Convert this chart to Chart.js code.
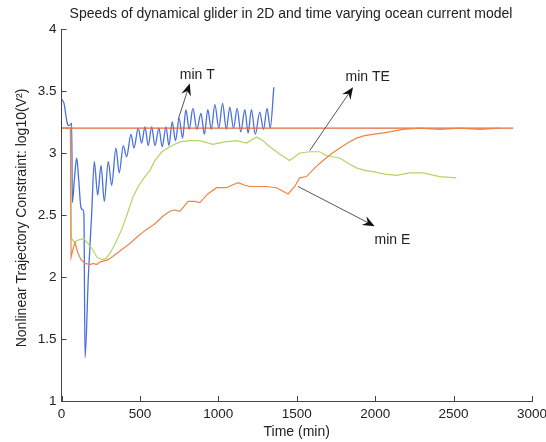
<!DOCTYPE html>
<html>
<head>
<meta charset="utf-8">
<script src="https://cdn.jsdelivr.net/npm/chart.js@4.4.1/dist/chart.umd.min.js"></script>
<style>
  html, body { margin: 0; padding: 0; background: #fff; }
  #wrap { width: 546px; height: 442px; }
</style>
</head>
<body>
<div id="wrap"><canvas id="speeds"></canvas></div>
<script>
// time (min) and log10(V^2) for each run
const minT_time = [3, 16, 35, 45, 58, 65, 69, 83, 97, 110, 124, 137, 143, 150, 171, 192, 209, 231, 252, 273, 298, 320, 347, 368, 394, 415, 443, 462, 489, 511, 532, 553, 575, 596, 621, 642, 666, 685, 706, 727, 750, 772, 793, 814, 838, 863, 889, 911, 933, 955, 978, 1003, 1027, 1051, 1073, 1097, 1120, 1143, 1169, 1190, 1211, 1236, 1264, 1288, 1311, 1331, 1354]
const minT_value = [3.43, 3.40, 3.25, 3.22, 3.23, 3.24, 2.60, 2.80, 2.96, 2.78, 2.56, 2.54, 2.50, 1.35, 2.00, 2.50, 2.93, 2.66, 2.90, 2.61, 2.93, 2.74, 3.04, 2.84, 3.06, 2.97, 3.15, 3.04, 3.20, 3.08, 3.21, 3.06, 3.21, 3.06, 3.20, 3.05, 3.21, 3.06, 3.25, 3.10, 3.28, 3.12, 3.35, 3.19, 3.36, 3.19, 3.32, 3.15, 3.35, 3.19, 3.39, 3.20, 3.40, 3.19, 3.37, 3.20, 3.36, 3.17, 3.35, 3.16, 3.35, 3.15, 3.33, 3.19, 3.36, 3.20, 3.53]

const minTE_time = [3, 57, 61, 80, 111, 143, 169, 194, 226, 256, 283, 309, 347, 383, 417, 457, 494, 532, 564, 596, 640, 691, 755, 818, 882, 965, 1041, 1116, 1180, 1243, 1283, 1328, 1392, 1455, 1519, 1583, 1646, 1689, 1774, 1825, 1880, 1933, 1986, 2061, 2135, 2220, 2304, 2411, 2517]
const minTE_value = [3.20, 3.20, 2.32, 2.28, 2.30, 2.31, 2.27, 2.23, 2.16, 2.14, 2.15, 2.19, 2.28, 2.38, 2.50, 2.65, 2.74, 2.81, 2.86, 2.94, 3.01, 3.05, 3.09, 3.10, 3.10, 3.07, 3.09, 3.10, 3.08, 3.13, 3.10, 3.05, 2.99, 2.94, 3.00, 3.01, 3.01, 2.98, 2.96, 2.92, 2.88, 2.86, 2.85, 2.83, 2.82, 2.84, 2.84, 2.81, 2.80]

const minE_time = [3, 57, 61, 73, 86, 103, 124, 150, 182, 203, 224, 245, 298, 341, 383, 436, 489, 538, 596, 646, 691, 723, 755, 808, 850, 882, 933, 989, 1052, 1086, 1126, 1169, 1201, 1252, 1307, 1371, 1445, 1487, 1519, 1562, 1615, 1668, 1717, 1774, 1825, 1880, 1933, 1986, 2041, 2092, 2177, 2283, 2411, 2538, 2666, 2793]
const minE_value = [3.20, 3.20, 2.16, 2.22, 2.28, 2.20, 2.14, 2.11, 2.10, 2.11, 2.10, 2.12, 2.14, 2.18, 2.22, 2.27, 2.33, 2.38, 2.43, 2.49, 2.53, 2.54, 2.53, 2.61, 2.61, 2.60, 2.67, 2.72, 2.72, 2.74, 2.76, 2.74, 2.73, 2.73, 2.73, 2.72, 2.67, 2.73, 2.80, 2.81, 2.88, 2.94, 2.99, 3.04, 3.08, 3.12, 3.14, 3.15, 3.16, 3.17, 3.19, 3.20, 3.19, 3.20, 3.19, 3.20]

const limit_time = [0, 2880]
const limit_value = [3.2, 3.2]

const x_ticks = [0, 500, 1000, 1500, 2000, 2500, 3000]
const y_ticks = [1, 1.5, 2, 2.5, 3, 3.5, 4]

// arrow callouts, in data units
const callouts = [
  { text: 'min T', from: [744, 3.27], to: [818, 3.56], at: [866, 3.63] },
  { text: 'min TE', from: [1583, 3.02], to: [1859, 3.53], at: [1952, 3.61] },
  { text: 'min E', from: [1508, 2.73], to: [1997, 2.41], at: [2110, 2.30] },
]

function toPoints(xs, ys) {
  return xs.map((x, i) => ({ x: x, y: ys[i] }))
}

const FONT = '"Liberation Sans", Arial, sans-serif'

const decorations = {
  id: 'decorations',
  afterDraw(chart) {
    const ctx = chart.ctx
    const xs = chart.scales.x
    const ys = chart.scales.y
    const area = chart.chartArea
    ctx.save()

    // inward tick marks
    ctx.strokeStyle = '#444'
    ctx.lineWidth = 1
    ctx.beginPath()
    x_ticks.forEach(function(v) {
      const px = Math.round(xs.getPixelForValue(v)) + 0.5
      ctx.moveTo(px, area.bottom)
      ctx.lineTo(px, area.bottom - 5)
    })
    y_ticks.forEach(function(v) {
      const py = Math.round(ys.getPixelForValue(v)) + 0.5
      ctx.moveTo(area.left, py)
      ctx.lineTo(area.left + 5, py)
    })
    ctx.stroke()

    // callout arrows
    callouts.forEach(function(c) {
      const x0 = xs.getPixelForValue(c.from[0]), y0 = ys.getPixelForValue(c.from[1])
      const x1 = xs.getPixelForValue(c.to[0]), y1 = ys.getPixelForValue(c.to[1])
      const ang = Math.atan2(y1 - y0, x1 - x0)
      ctx.strokeStyle = '#555'
      ctx.lineWidth = 1
      ctx.beginPath()
      ctx.moveTo(x0, y0)
      ctx.lineTo(x1 - 6 * Math.cos(ang), y1 - 6 * Math.sin(ang))
      ctx.stroke()
      const len = 12, half = 5
      const bx = x1 - len * Math.cos(ang), by = y1 - len * Math.sin(ang)
      const nx = -Math.sin(ang), ny = Math.cos(ang)
      const mx = x1 - len * 0.65 * Math.cos(ang), my = y1 - len * 0.65 * Math.sin(ang)
      ctx.fillStyle = '#111'
      ctx.beginPath()
      ctx.moveTo(x1, y1)
      ctx.lineTo(bx + nx * half, by + ny * half)
      ctx.lineTo(mx, my)
      ctx.lineTo(bx - nx * half, by - ny * half)
      ctx.closePath()
      ctx.fill()

      ctx.fillStyle = '#222'
      ctx.font = '14px ' + FONT
      ctx.textAlign = 'center'
      ctx.textBaseline = 'middle'
      ctx.fillText(c.text, xs.getPixelForValue(c.at[0]), ys.getPixelForValue(c.at[1]))
    })

    // titles
    ctx.fillStyle = '#222'
    ctx.textAlign = 'center'
    ctx.textBaseline = 'middle'
    ctx.font = '14px ' + FONT
    ctx.fillText('Speeds of dynamical glider in 2D and time varying ocean current model', 291, 14)
    ctx.fillText('Time (min)', (area.left + area.right) / 2, 432)
    ctx.translate(22, (area.top + area.bottom) / 2 + 3)
    ctx.rotate(-Math.PI / 2)
    ctx.fillText('Nonlinear Trajectory Constraint: log10(V\u00B2)', 0, 0)
    ctx.restore()
  }
}

const speedsCanvas = document.getElementById('speeds')
new Chart(
  speedsCanvas,
  {
    type: 'line',
    data: {
      datasets: [
        {
          label: 'min E',
          data: toPoints(minE_time, minE_value),
          borderColor: '#ee8448',
          borderWidth: 1.2,
        },
        {
          label: 'limit',
          data: toPoints(limit_time, limit_value),
          borderColor: '#e2683e',
          borderWidth: 1.2,
        },
        {
          label: 'min TE',
          data: toPoints(minTE_time, minTE_value),
          borderColor: '#b4d466',
          borderWidth: 1.2,
        },
        {
          label: 'min T',
          data: toPoints(minT_time, minT_value),
          borderColor: '#4a70dc',
          borderWidth: 1.3,
          cubicInterpolationMode: 'monotone',
        },
      ]
    },
    options: {
      responsive: true,
      maintainAspectRatio: false,
      animation: false,
      elements: {
        point: { radius: 0 },
        line: { tension: 0 },
      },
      layout: {
        padding: { top: 29, left: 0, right: 14, bottom: 0 }
      },
      plugins: {
        legend: false,
        title: { display: false },
        tooltip: { enabled: false },
      },
      scales: {
        x: {
          type: 'linear',
          min: 0,
          max: 3000,
          grid: { display: false, drawTicks: false },
          border: { display: true, color: '#444' },
          afterBuildTicks(scale) {
            scale.ticks = x_ticks.map((v) => ({ value: v }))
          },
          afterFit(scale) {
            scale.height = 41
            scale.paddingLeft = 0
            scale.paddingRight = 0
          },
          ticks: {
            padding: 5,
            color: '#222',
            font: { family: FONT, size: 13.5 },
            maxRotation: 0,
            callback: (v) => String(v),
          },
        },
        y: {
          type: 'linear',
          min: 1,
          max: 4,
          grid: { display: false, drawTicks: false },
          border: { display: true, color: '#444' },
          afterBuildTicks(scale) {
            scale.ticks = y_ticks.map((v) => ({ value: v }))
          },
          afterFit(scale) {
            scale.width = 61.5
          },
          ticks: {
            padding: 5,
            color: '#222',
            font: { family: FONT, size: 13.5 },
            callback: (v) => String(v),
          },
        },
      },
    },
    plugins: [decorations],
  }
)
</script>
</body>
</html>
